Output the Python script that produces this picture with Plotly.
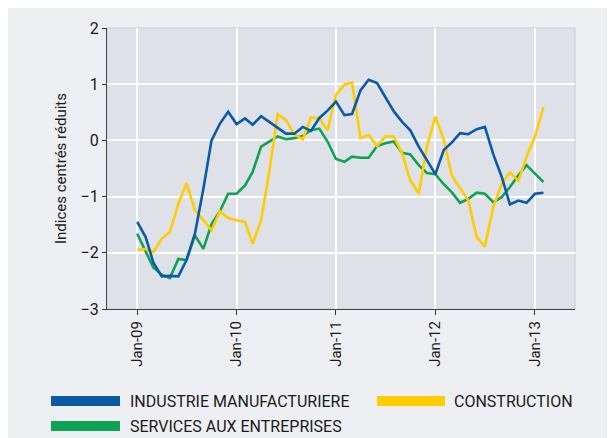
import pandas as pd
import plotly.graph_objects as go

months = pd.date_range("2009-01-01", "2013-02-01", freq="MS").strftime("%Y-%m-%d").tolist()

industrie = [-1.45, -1.72, -2.17, -2.42, -2.41, -2.42, -2.13, -1.66, -0.86, 0.00,
             0.30, 0.51, 0.29, 0.39, 0.28, 0.43, 0.33, 0.23, 0.12, 0.12,
             0.24, 0.17, 0.40, 0.53, 0.69, 0.45, 0.47, 0.89, 1.08, 1.02,
             0.78, 0.52, 0.33, 0.18, -0.11, -0.34, -0.60, -0.17, -0.04, 0.13,
             0.11, 0.20, 0.24, -0.25, -0.65, -1.14, -1.07, -1.11, -0.95, -0.93]

construction = [-1.95, -1.93, -1.99, -1.75, -1.63, -1.13, -0.76, -1.24, -1.42, -1.60,
                -1.26, -1.38, -1.42, -1.45, -1.84, -1.42, -0.56, 0.47, 0.36, 0.11,
                0.02, 0.41, 0.39, 0.18, 0.81, 0.99, 1.03, 0.04, 0.10, -0.10,
                0.07, 0.07, -0.23, -0.71, -0.95, -0.11, 0.42, 0.01, -0.62, -0.86,
                -1.07, -1.72, -1.89, -1.18, -0.77, -0.57, -0.72, -0.29, 0.07, 0.59]

services = [-1.66, -1.99, -2.26, -2.39, -2.45, -2.11, -2.13, -1.69, -1.93, -1.49,
            -1.26, -0.95, -0.95, -0.80, -0.56, -0.11, -0.02, 0.07, 0.02, 0.04,
            0.08, 0.18, 0.21, -0.02, -0.33, -0.38, -0.29, -0.31, -0.31, -0.10,
            -0.05, -0.02, -0.22, -0.25, -0.44, -0.58, -0.60, -0.78, -0.92, -1.11,
            -1.04, -0.93, -0.95, -1.10, -1.01, -0.83, -0.62, -0.44, -0.59, -0.74]

names = ["INDUSTRIE MANUFACTURIERE", "CONSTRUCTION", "SERVICES AUX ENTREPRISES"]
colors = ["#0a5aa5", "#ffcc00", "#0ea352"]

FONT = "Roboto"
OFF = 8  # page offset of the figure (body margin)
W, H = 615, 438
# plot area in page pixels
PX0, PX1, PY0, PY1 = 107, 575, 28, 309
L, T = PX0 - OFF, PY0 - OFF
R = W - L - (PX1 - PX0)
B = H - T - (PY1 - PY0)
PW, PH = PX1 - PX0, PY1 - PY0


def px_x(x):
    return (x - PX0) / PW


def px_y(y):
    return (PY1 - y) / PH


fig = go.Figure()
fig.add_trace(go.Scatter(x=months, y=services, mode="lines", name=names[2],
                         line=dict(color=colors[2], width=2.6)))
fig.add_trace(go.Scatter(x=months, y=construction, mode="lines", name=names[1],
                         line=dict(color=colors[1], width=2.6)))
fig.add_trace(go.Scatter(x=months, y=industrie, mode="lines", name=names[0],
                         line=dict(color=colors[0], width=2.6)))

shapes = [
    dict(type="rect", xref="paper", yref="paper", x0=0, x1=1, y0=0, y1=1,
         line=dict(color="#c9cbd2", width=1), layer="below"),
]
annotations = []
# manual legend (page pixel positions)
legend_items = [
    (names[0], colors[0], 51, 120, 401, 128),
    (names[1], colors[1], 377, 445, 401, 452),
    (names[2], colors[2], 51, 120, 426, 128),
]
for name, col, x0, x1, yc, tx in legend_items:
    shapes.append(dict(type="rect", xref="paper", yref="paper",
                       x0=px_x(x0), x1=px_x(x1), y0=px_y(yc - 5), y1=px_y(yc + 5),
                       fillcolor=col, line=dict(width=0)))
    annotations.append(dict(xref="paper", yref="paper", x=px_x(tx), y=px_y(yc),
                            xanchor="left", yanchor="middle", showarrow=False,
                            text=name, font=dict(family=FONT, size=16, color="#1a1a1a")))

fig.update_layout(
    width=W, height=H,
    margin=dict(l=L, r=R, t=T, b=B),
    paper_bgcolor="#eeeff3",
    plot_bgcolor="#dfe1e9",
    showlegend=False,
    shapes=shapes,
    annotations=annotations,
    font=dict(family=FONT, size=15, color="#1a1a1a"),
)
fig.update_xaxes(
    type="date",
    range=["2008-09-12", "2013-05-28"],
    tick0="2009-01-01", dtick="M12", tickformat="%b-%y",
    tickangle=-90,
    ticks="outside", ticklen=5, tickcolor="#333333",
    showline=True, linecolor="#444444", linewidth=1.2,
    showgrid=True, gridcolor="#ffffff", gridwidth=1.5,
    zeroline=False,
    tickfont=dict(family=FONT, size=15, color="#1a1a1a"),
)
fig.update_yaxes(
    range=[-3, 2], dtick=1,
    ticks="outside", ticklen=4, tickcolor="#333333",
    showline=True, linecolor="#444444", linewidth=1.2,
    showgrid=True, gridcolor="#ffffff", gridwidth=1.5,
    zeroline=False,
    tickfont=dict(family=FONT, size=16, color="#1a1a1a"),
    title=dict(text="Indices centrés réduits", standoff=10,
               font=dict(family=FONT, size=15, color="#1a1a1a")),
)

fig.write_html("out.html")
